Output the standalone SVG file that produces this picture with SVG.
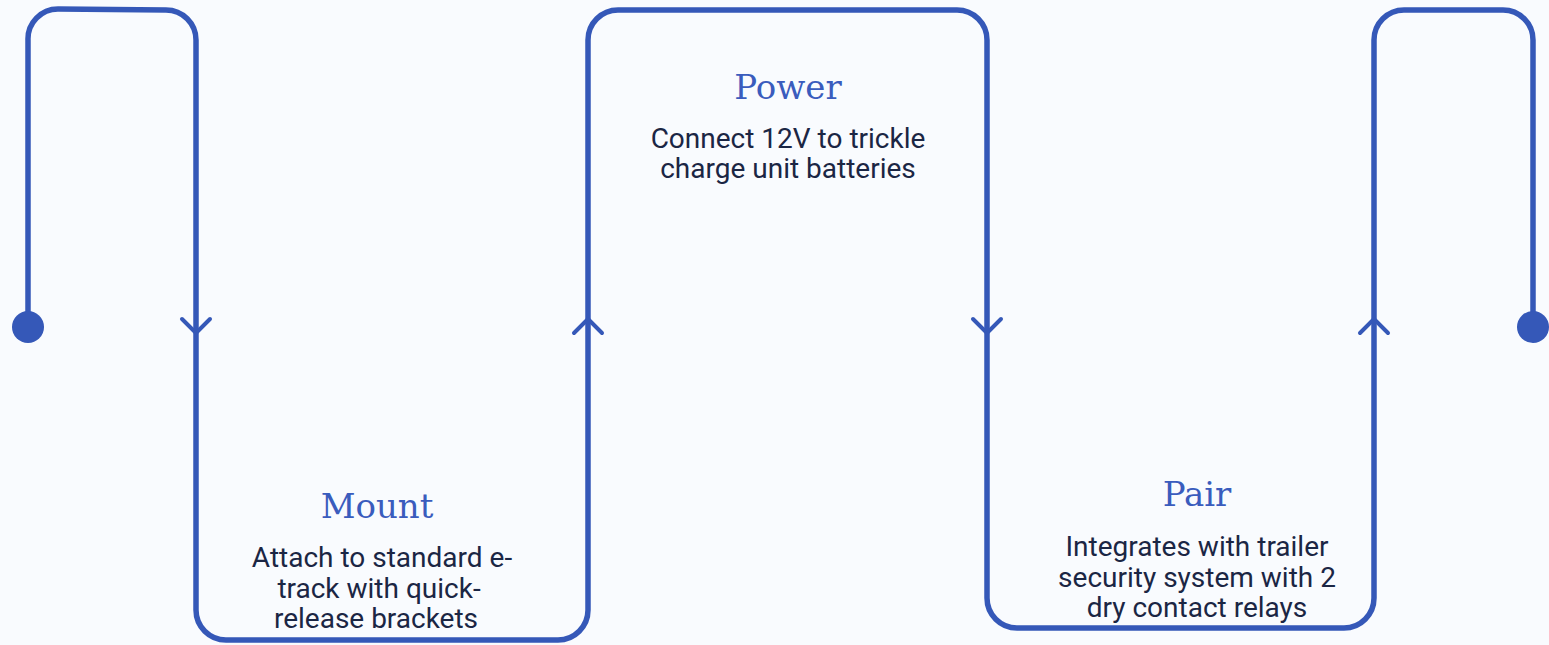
<svg xmlns="http://www.w3.org/2000/svg" width="1549" height="645" viewBox="0 0 1549 645">
  <style>
    .line { fill: none; stroke: #3558b8; stroke-width: 5.5; stroke-linejoin: round; }
    .chev { fill: none; stroke: #3558b8; stroke-width: 4; stroke-linecap: round; stroke-linejoin: round; }
    .dot { fill: #3558b8; }
    .title { font-family: "DejaVu Serif", "Liberation Serif", serif; font-size: 34px; fill: #3a5cbd; text-anchor: middle; }
    .body { font-family: Roboto, "Liberation Sans", sans-serif; font-size: 28px; fill: #1b2644; text-anchor: middle; }
  </style>
  <rect width="1549" height="645" fill="#f9fbfe"/>
  <g id="connectors">
    <path class="line" d="M28,327 L28,40 A30,30 0 0 1 58,9 L166,10 A30,30 0 0 1 196,40 L196,610 A30,30 0 0 0 226,640 L558,640 A30,30 0 0 0 588,610 L588,40 A30,30 0 0 1 618,10 L957,10 A30,30 0 0 1 987,40 L987,598 A30,30 0 0 0 1017,628 L1344,628 A30,30 0 0 0 1374,598 L1374,40 A30,30 0 0 1 1404,10 L1503,10 A30,30 0 0 1 1533,40 L1533,327"/>
    <circle class="dot" cx="28" cy="327" r="16"/>
    <circle class="dot" cx="1533" cy="327" r="16"/>
    <path class="chev" d="M182,319 L196,333 L210,319"/>
    <path class="chev" d="M574,333 L588,319 L602,333"/>
    <path class="chev" d="M973,319 L987,333 L1001,319"/>
    <path class="chev" d="M1360,333 L1374,319 L1388,333"/>
  </g>
  <g id="node-mount">
    <text class="title" x="377" y="518">Mount</text>
    <text class="body" x="382" y="567">Attach to standard e-</text>
    <text class="body" x="379" y="598">track with quick-</text>
    <text class="body" x="376" y="628">release brackets</text>
  </g>
  <g id="node-power">
    <text class="title" x="788" y="99">Power</text>
    <text class="body" x="788" y="148">Connect 12V to trickle</text>
    <text class="body" x="788" y="178">charge unit batteries</text>
  </g>
  <g id="node-pair">
    <text class="title" x="1197" y="506">Pair</text>
    <text class="body" x="1197" y="556">Integrates with trailer</text>
    <text class="body" x="1197" y="587">security system with 2</text>
    <text class="body" x="1197" y="617">dry contact relays</text>
  </g>
</svg>
